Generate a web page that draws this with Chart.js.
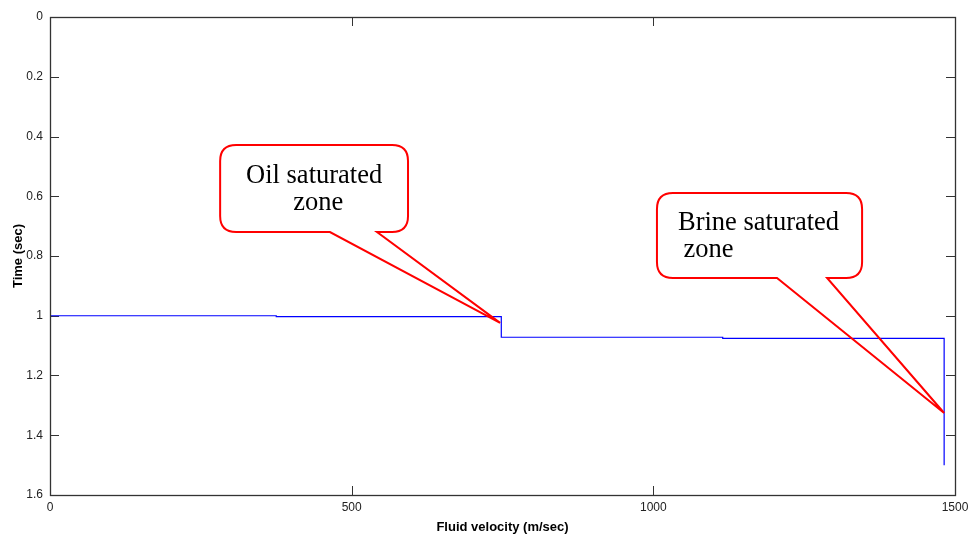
<!DOCTYPE html>
<html>
<head>
<meta charset="utf-8">
<script src="https://cdn.jsdelivr.net/npm/chart.js@4/dist/chart.umd.min.js"></script>
<style>
html,body{margin:0;padding:0;background:#fff;}
#wrap{width:970px;height:535px;position:relative;}
</style>
</head>
<body>
<div id="wrap"><canvas id="c" width="970" height="535"></canvas></div>
<script>
// ---- data ----
const velocity = [0, 375, 375, 748, 748, 1115, 1115, 1482, 1482];
const time     = [1.0, 1.0, 1.003, 1.003, 1.072, 1.072, 1.076, 1.076, 1.5];
const xTickValues = [0, 500, 1000, 1500];
const yTickValues = [0, 0.2, 0.4, 0.6, 0.8, 1, 1.2, 1.4, 1.6];
const xTitle = 'Fluid velocity (m/sec)';
const yTitle = 'Time (sec)';
// callouts: text lines, tip and box in data coordinates
const calloutLines = [["Oil saturated", "zone"], ["Brine saturated", " zone"]];
const calloutTips = [[746, 1.024], [1482, 1.3255]];
const calloutBoxes = [[282, 0.4285, 593.4, 0.7197], [1006, 0.5891, 1346, 0.8736]];
const calloutBases = [[464, 542], [1205, 1288]];

const points = velocity.map((v, i) => ({x: v, y: time[i]}));

const frameAndTicks = {
  id: 'frameAndTicks',
  beforeDatasetsDraw(chart) {
    const ctx = chart.ctx, a = chart.chartArea;
    const xs = chart.scales.x, ys = chart.scales.y;
    ctx.save();
    ctx.strokeStyle = '#333';
    ctx.lineWidth = 1;
    const L = 9;
    ctx.beginPath();
    xTickValues.forEach(v => {
      const px = Math.round(xs.getPixelForValue(v)) + 0.5;
      ctx.moveTo(px, a.bottom); ctx.lineTo(px, a.bottom - L);
      ctx.moveTo(px, a.top); ctx.lineTo(px, a.top + L);
    });
    yTickValues.forEach(v => {
      const py = Math.round(ys.getPixelForValue(v)) + 0.5;
      ctx.moveTo(a.left, py); ctx.lineTo(a.left + L, py);
      ctx.moveTo(a.right, py); ctx.lineTo(a.right - L, py);
    });
    ctx.stroke();
    ctx.restore();
  },
  afterDatasetsDraw(chart) {
    const ctx = chart.ctx, a = chart.chartArea;
    ctx.save();
    ctx.strokeStyle = '#333';
    ctx.lineWidth = 1.3;
    ctx.strokeRect(Math.round(a.left) + 0.5, Math.round(a.top) + 0.5,
                   Math.round(a.right - a.left), Math.round(a.bottom - a.top));
    ctx.restore();
  }
};

const callouts = {
  id: 'callouts',
  afterDraw(chart) {
    const ctx = chart.ctx;
    const xs = chart.scales.x, ys = chart.scales.y;
    ctx.save();
    calloutBoxes.forEach((b, i) => {
      const l = xs.getPixelForValue(b[0]), t = ys.getPixelForValue(b[1]);
      const r = xs.getPixelForValue(b[2]), btm = ys.getPixelForValue(b[3]);
      const bl = xs.getPixelForValue(calloutBases[i][0]);
      const br = xs.getPixelForValue(calloutBases[i][1]);
      const tx = xs.getPixelForValue(calloutTips[i][0]);
      const ty = ys.getPixelForValue(calloutTips[i][1]);
      const rad = 16;
      ctx.beginPath();
      ctx.moveTo(l + rad, t);
      ctx.lineTo(r - rad, t);
      ctx.quadraticCurveTo(r, t, r, t + rad);
      ctx.lineTo(r, btm - rad);
      ctx.quadraticCurveTo(r, btm, r - rad, btm);
      ctx.lineTo(br, btm);
      ctx.lineTo(tx, ty);
      ctx.lineTo(bl, btm);
      ctx.lineTo(l + rad, btm);
      ctx.quadraticCurveTo(l, btm, l, btm - rad);
      ctx.lineTo(l, t + rad);
      ctx.quadraticCurveTo(l, t, l + rad, t);
      ctx.closePath();
      ctx.strokeStyle = '#ff0000';
      ctx.lineWidth = 2;
      ctx.lineJoin = 'miter';
      ctx.stroke();
      ctx.fillStyle = '#000';
      ctx.font = '26.5px "Liberation Serif", "Times New Roman", serif';
      ctx.textBaseline = 'alphabetic';
      const lines = calloutLines[i];
      if (i === 0) {
        ctx.textAlign = 'center';
        ctx.fillText(lines[0], l + 94, t + 38);
        ctx.fillText(lines[1], l + 98, t + 65);
      } else {
        ctx.textAlign = 'left';
        ctx.fillText(lines[0], l + 21, t + 37.5);
        ctx.fillText(lines[1], l + 20, t + 64.5);
      }
    });
    ctx.restore();
  }
};

new Chart(document.getElementById('c'), {
  type: 'line',
  data: {
    datasets: [{
      data: points,
      borderColor: '#0000ff',
      borderWidth: 1.2,
      pointRadius: 0,
      fill: false,
      tension: 0
    }]
  },
  options: {
    responsive: false,
    animation: false,
    events: [],
    layout: {padding: {left: 0, right: 15, top: 17, bottom: 0}},
    plugins: {legend: {display: false}, tooltip: {enabled: false}},
    scales: {
      x: {
        type: 'linear',
        min: 0, max: 1500,
        afterBuildTicks: s => { s.ticks = xTickValues.map(v => ({value: v})); },
        afterFit: s => { s.height = 40; s.paddingLeft = 0; s.paddingRight = 0; },
        grid: {display: false, drawTicks: false},
        border: {display: false},
        ticks: {
          color: '#222', padding: 5, maxRotation: 0,
          font: {family: '"Liberation Sans", Arial, sans-serif', size: 12},
          callback: v => String(v)
        },
        title: {
          display: true, text: xTitle, color: '#000', padding: {top: 0, bottom: 0},
          font: {family: '"Liberation Sans", Arial, sans-serif', size: 13, weight: 'bold'}
        }
      },
      y: {
        type: 'linear',
        reverse: true,
        min: 0, max: 1.6,
        afterBuildTicks: s => { s.ticks = yTickValues.map(v => ({value: v})); },
        afterFit: s => { s.width = 50; },
        grid: {display: false, drawTicks: false},
        border: {display: false},
        ticks: {
          color: '#222', padding: 7,
          font: {family: '"Liberation Sans", Arial, sans-serif', size: 12},
          callback: v => String(Math.round(v * 10) / 10)
        },
        title: {
          display: true, text: yTitle, color: '#000', padding: {top: 11, bottom: 0},
          font: {family: '"Liberation Sans", Arial, sans-serif', size: 13, weight: 'bold'}
        }
      }
    }
  },
  plugins: [frameAndTicks, callouts]
});
</script>
</body>
</html>
